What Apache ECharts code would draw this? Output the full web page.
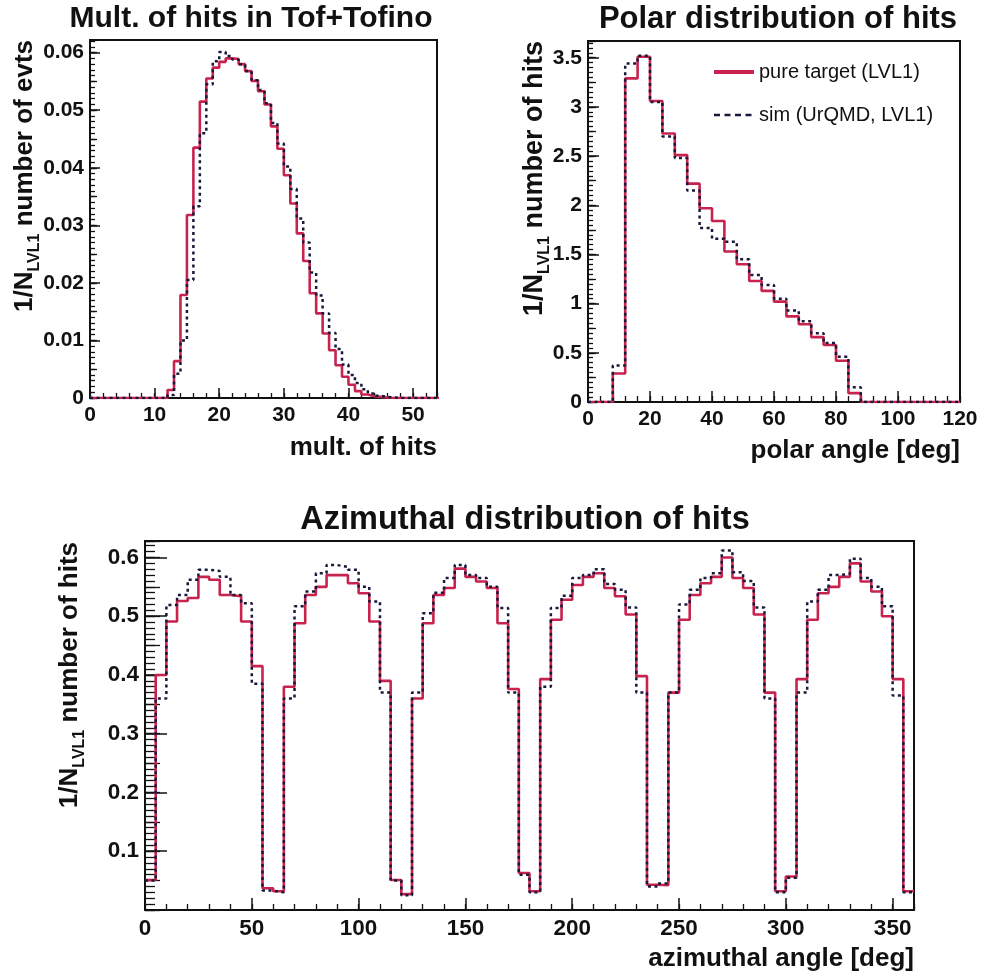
<!DOCTYPE html>
<html>
<head>
<meta charset="utf-8">
<script src="https://cdn.jsdelivr.net/npm/echarts@6/dist/echarts.min.js"></script>
<style>html,body{margin:0;padding:0;background:#ffffff}#c{width:982px;height:974px}</style>
</head>
<body>
<div id="c"></div>
<script>
// ---------- data ----------
// Multiplicity of hits (bins of width 1 starting at 0)
const multBinStart = 0, multBinWidth = 1;
const multPure = [0,0,0,0,0,0,0,0,0,0,0,0,
  0.0014,0.0064,0.0179,0.0318,0.0435,0.0515,0.0555,0.0574,0.0584,0.0590,
  0.0589,0.0580,0.0568,0.0551,0.0533,0.0510,0.0472,0.0433,0.0387,0.0338,
  0.0286,0.0238,0.0182,0.0147,0.0112,0.0083,0.0057,0.0037,0.0023,0.0012,
  0.0006,0.0003,0.0002,0.0001,0,0,0,0,0,0,0,0];
const multSim = [0,0,0,0,0,0,0,0,0,0,0,0,
  0.0005,0.0042,0.0100,0.0205,0.0333,0.0460,0.0545,0.0585,0.0601,0.0594,
  0.0588,0.0580,0.0568,0.0552,0.0535,0.0512,0.0478,0.0442,0.0402,0.0363,
  0.0312,0.0270,0.0218,0.0178,0.0147,0.0113,0.0085,0.0058,0.0040,0.0026,
  0.0015,0.0008,0.0004,0.0002,0.0001,0,0,0,0,0,0,0];

// Polar angle (bins of 4 deg starting at 0)
const polarBinStart = 0, polarBinWidth = 4;
const polarPure = [0,0,0.29,3.29,3.51,3.06,2.73,2.51,2.22,1.97,1.84,1.53,1.40,1.23,1.13,
  1.02,0.87,0.79,0.66,0.58,0.42,0.09,0,0,0,0,0,0,0,0];
const polarSim = [0,0,0.37,3.44,3.52,3.05,2.70,2.48,2.15,1.77,1.66,1.63,1.45,1.29,1.19,
  1.05,0.93,0.82,0.70,0.60,0.46,0.15,0,0,0,0,0,0,0,0];

// Azimuthal angle (bins of 5 deg starting at 0)
const aziBinStart = 0, aziBinWidth = 5;
const aziPure = [
  0.051,0.400,0.491,0.526,0.531,0.567,0.562,0.536,0.534,0.491,0.415,0.037,
  0.032,0.380,0.488,0.536,0.550,0.570,0.570,0.556,0.539,0.491,0.390,0.051,
  0.027,0.360,0.488,0.536,0.548,0.581,0.567,0.559,0.548,0.488,0.376,0.063,
  0.032,0.393,0.494,0.528,0.553,0.567,0.573,0.548,0.534,0.503,0.398,0.043,
  0.042,0.370,0.494,0.536,0.556,0.567,0.600,0.565,0.548,0.503,0.370,0.032,
  0.057,0.393,0.494,0.539,0.550,0.567,0.590,0.559,0.542,0.500,0.393,0.032];
const aziSim = [
  0.050,0.360,0.519,0.536,0.562,0.579,0.577,0.567,0.536,0.522,0.385,0.033,
  0.030,0.360,0.517,0.542,0.573,0.587,0.584,0.579,0.550,0.525,0.370,0.050,
  0.025,0.370,0.505,0.540,0.565,0.587,0.570,0.565,0.550,0.514,0.370,0.060,
  0.030,0.380,0.514,0.535,0.565,0.570,0.580,0.555,0.545,0.515,0.370,0.040,
  0.045,0.370,0.520,0.545,0.565,0.573,0.612,0.575,0.560,0.515,0.360,0.030,
  0.055,0.370,0.525,0.545,0.570,0.572,0.598,0.565,0.550,0.517,0.365,0.030];

// axis ranges / tick spacing
const multX = {min:0, max:53.7, major:10, minor:2};
const multY = {min:0, max:0.0622, major:0.01, mid:0.005, minor:0.001};
const polarX = {min:0, max:120, major:20, minor:4};
const polarY = {min:0, max:3.67, major:0.5, mid:0.25, minor:0.05};
const aziX = {min:0, max:360, major:50, minor:10};
const aziY = {min:0, max:0.628, major:0.1, mid:0.05, minor:0.01};

const seriesNames = ['pure target (LVL1)', 'sim (UrQMD, LVL1)'];

// ---------- chart ----------
const FONT = '"Liberation Sans", Arial, Helvetica, sans-serif';
const INK = '#111111';
const RED = '#c8234f';
const SIM = '#18183a';

function histPoints(start, width, values) {
  const pts = values.map((v, i) => [start + i * width, v]);
  pts.push([start + values.length * width, values[values.length - 1]]);
  return pts;
}

function xMain(grid, r, len, fs, showMax) {
  return {gridIndex:grid, type:'value', position:'bottom', min:r.min, max:r.max, interval:r.major,
    axisLine:{show:true, onZero:false, lineStyle:{color:INK, width:2}},
    axisTick:{show:true, inside:true, length:len, lineStyle:{color:INK, width:1.5}},
    minorTick:{show:false},
    axisLabel:{show:true, color:INK, fontFamily:FONT, fontWeight:'bold', fontSize:fs, margin:7, showMaxLabel:showMax},
    splitLine:{show:false}};
}
function xTicks(grid, r, step, len) {
  return {gridIndex:grid, type:'value', position:'bottom', min:r.min, max:r.max, interval:step,
    axisLine:{show:false, onZero:false},
    axisTick:{show:true, inside:true, length:len, lineStyle:{color:INK, width:1.3}},
    axisLabel:{show:false}, splitLine:{show:false}};
}
function yMain(grid, r, len, fs, showMin) {
  return {gridIndex:grid, type:'value', position:'left', min:r.min, max:r.max, interval:r.major,
    axisLine:{show:true, onZero:false, lineStyle:{color:INK, width:2}},
    axisTick:{show:true, inside:true, length:len, lineStyle:{color:INK, width:1.5}},
    minorTick:{show:false},
    axisLabel:{show:true, color:INK, fontFamily:FONT, fontWeight:'bold', fontSize:fs, margin:6, showMaxLabel:false, showMinLabel:showMin},
    splitLine:{show:false}};
}
function yTicks(grid, r, step, len) {
  return {gridIndex:grid, type:'value', position:'left', min:r.min, max:r.max, interval:step,
    axisLine:{show:false, onZero:false},
    axisTick:{show:true, inside:true, length:len, lineStyle:{color:INK, width:1.3}},
    axisLabel:{show:false}, splitLine:{show:false}};
}

function histSeries(name, xi, yi, start, width, vals, sim) {
  return {name, type:'line', xAxisIndex:xi, yAxisIndex:yi, step:'end',
    data: histPoints(start, width, vals), symbol:'none', showSymbol:false,
    lineStyle: sim ? {color:SIM, width:2.5, type:[3,3.5]} : {color:RED, width:2.6},
    itemStyle:{color: sim ? SIM : RED},
    z: sim ? 4 : 3, silent:true, animation:false};
}

function txt(text, x, y, size, opts) {
  opts = opts || {};
  return {type:'text', x, y, rotation: opts.rot || 0, silent:true,
    style:{text, fill:INK, fontFamily:FONT, fontWeight:'bold', fontSize:size,
      align: opts.align || 'center', verticalAlign:'middle',
      textAlign: opts.align || 'center', textVerticalAlign:'middle',
      rich: opts.rich}};
}
function yTitle(rest, x, y, size) {
  return txt('1/N{sub|LVL1}' + rest, x, y, size, {rot: Math.PI/2, align:'right',
    rich:{sub:{fontFamily:FONT, fontWeight:'bold', fontSize:16, lineHeight:16, padding:[20,0,0,0], fill:INK}}});
}

const gridBase = {show:true, borderColor:INK, borderWidth:2, backgroundColor:'transparent', containLabel:false, outerBoundsMode:'none'};

const option = {
  animation:false,
  backgroundColor:'#ffffff',
  textStyle:{fontFamily:FONT},
  grid:[
    Object.assign({left:90, top:40, width:347, height:358}, gridBase),
    Object.assign({left:588, top:41, width:372, height:361}, gridBase),
    Object.assign({left:145, top:541, width:769, height:369}, gridBase)
  ],
  xAxis:[
    xMain(0, multX, 10, 21, false), xTicks(0, multX, multX.minor, 5),
    xMain(1, polarX, 11, 21, true), xTicks(1, polarX, polarX.minor, 6),
    xMain(2, aziX, 12, 22.5, false), xTicks(2, aziX, aziX.minor, 6)
  ],
  yAxis:[
    yMain(0, multY, 10, 21, true), yTicks(0, multY, multY.mid, 7), yTicks(0, multY, multY.minor, 5),
    yMain(1, polarY, 11, 21, true), yTicks(1, polarY, polarY.mid, 8), yTicks(1, polarY, polarY.minor, 5),
    yMain(2, aziY, 22, 22.5, false), yTicks(2, aziY, aziY.mid, 15), yTicks(2, aziY, aziY.minor, 10)
  ],
  legend:{show:true, orient:'vertical', left:707, top:57, itemWidth:40, itemHeight:20, itemGap:23,
    selectedMode:false,
    itemStyle:{opacity:0},
    data:[
      {name:seriesNames[0], lineStyle:{width:4}},
      {name:seriesNames[1], lineStyle:{width:2.5, type:[6,4.5]}}
    ],
    textStyle:{fontFamily:FONT, fontSize:20, color:INK}},
  series:[
    histSeries(seriesNames[0], 0, 0, multBinStart, multBinWidth, multPure, false),
    histSeries(seriesNames[1], 0, 0, multBinStart, multBinWidth, multSim, true),
    histSeries(seriesNames[0], 2, 3, polarBinStart, polarBinWidth, polarPure, false),
    histSeries(seriesNames[1], 2, 3, polarBinStart, polarBinWidth, polarSim, true),
    histSeries(seriesNames[0], 4, 6, aziBinStart, aziBinWidth, aziPure, false),
    histSeries(seriesNames[1], 4, 6, aziBinStart, aziBinWidth, aziSim, true)
  ],
  graphic:{elements:[
    txt('Mult. of hits in Tof+Tofino', 251, 19, 30),
    txt('Polar distribution of hits', 778, 19, 31),
    txt('Azimuthal distribution of hits', 525, 520, 32.5),
    txt('mult. of hits', 437, 448, 26, {align:'right'}),
    txt('polar angle [deg]', 960, 451, 26, {align:'right'}),
    txt('azimuthal angle [deg]', 914, 959, 26, {align:'right'}),
    yTitle(' number of evts', 25, 40, 26),
    yTitle(' number of hits', 535, 41, 27),
    yTitle(' number of hits', 70, 542, 26)
  ]}
};

const chart = echarts.init(document.getElementById('c'), null, {renderer:'canvas'});
chart.setOption(option);
</script>
</body>
</html>
